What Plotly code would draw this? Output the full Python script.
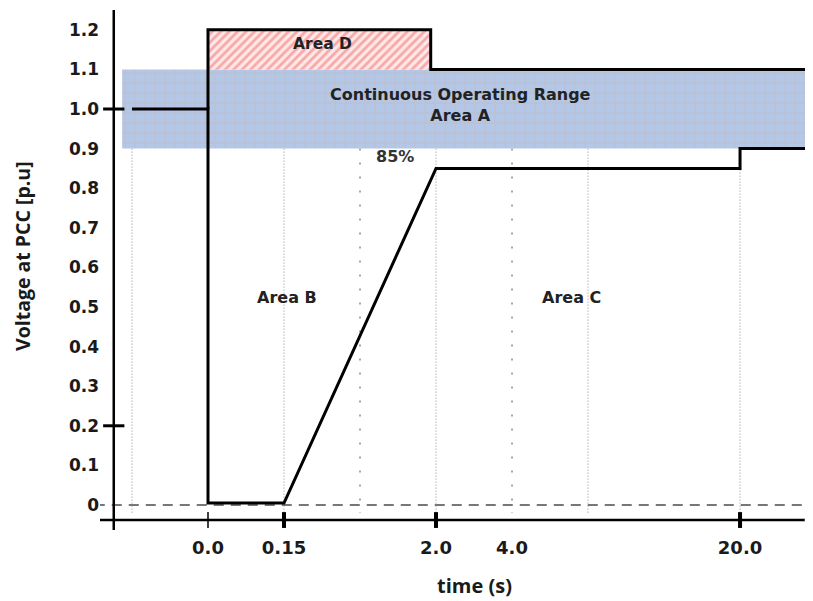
import plotly.graph_objects as go

# ---- data ----
time_labels = ["0.0", "0.15", "2.0", "4.0", "20.0"]
time_axis_pos = [0, 1, 3, 4, 7]          # mapped (non-linear) axis positions of the time ticks
volt_ticks = [0, 0.1, 0.2, 0.3, 0.4, 0.5, 0.6, 0.7, 0.8, 0.9, 1.0, 1.1, 1.2]
volt_labels = ["0", "0.1", "0.2", "0.3", "0.4", "0.5", "0.6", "0.7", "0.8", "0.9", "1.0", "1.1", "1.2"]

# lower (under-voltage) boundary
low_x = [-1, 0, 0, 1, 3, 7, 7, 7.96]
low_y = [1.0, 1.0, 0.005, 0.005, 0.85, 0.85, 0.9, 0.9]
# upper (over-voltage) boundary
up_x = [0, 0, 2.93, 2.93, 7.96]
up_y = [1.0, 1.2, 1.2, 1.1, 1.1]
# areas
areaA_x = [-1.13, 7.96, 7.96, -1.13, -1.13]
areaA_y = [0.9, 0.9, 1.1, 1.1, 0.9]
areaD_x = [0, 2.93, 2.93, 0, 0]
areaD_y = [1.1, 1.1, 1.2, 1.2, 1.1]
fine_grid_x = [-1, 1, 3, 5, 7]
sparse_grid_x = [2, 4]

X0, X1 = -1.421, 7.96
Y0, Y1 = -0.0758, 1.2551
AX_X = -1.24      # y-axis line position
AX_Y = -0.038     # x-axis line position

fig = go.Figure()

# vertical guides
for gx in fine_grid_x:
    fig.add_trace(go.Scatter(x=[gx, gx], y=[0.9, -0.02], mode="lines",
                             line=dict(color="#8a8a8a", width=1, dash="1px,2px"),
                             hoverinfo="skip", showlegend=False))
for gx in sparse_grid_x:
    fig.add_trace(go.Scatter(x=[gx, gx], y=[0.9, -0.02], mode="lines",
                             line=dict(color="#8a8a8a", width=1.5, dash="2px,12px"),
                             hoverinfo="skip", showlegend=False))

# Area A band
fig.add_trace(go.Scatter(x=areaA_x, y=areaA_y, mode="lines", fill="toself",
                         line=dict(width=0), fillcolor="#b4c7e7",
                         fillpattern=dict(shape="+", bgcolor="#b4c7e7", fgcolor="#c4b8b4",
                                          size=10, solidity=0.2),
                         hoverinfo="skip", showlegend=False))
# Area D hatched
fig.add_trace(go.Scatter(x=areaD_x, y=areaD_y, mode="lines", fill="toself",
                         line=dict(width=0), fillcolor="#ffd6d6",
                         fillpattern=dict(shape="/", bgcolor="#ffe8e8", fgcolor="#f26464",
                                          size=6, solidity=0.45),
                         hoverinfo="skip", showlegend=False))

# dashed zero line
fig.add_trace(go.Scatter(x=[-1.49, X1], y=[0, 0], mode="lines",
                         line=dict(color="#777777", width=2, dash="10px,7px"),
                         hoverinfo="skip", showlegend=False))

# boundary curves
fig.add_trace(go.Scatter(x=low_x, y=low_y, mode="lines",
                         line=dict(color="black", width=3), showlegend=False))
fig.add_trace(go.Scatter(x=up_x, y=up_y, mode="lines",
                         line=dict(color="black", width=3), showlegend=False))

# axes lines
fig.add_trace(go.Scatter(x=[-1.51, 7.9], y=[AX_Y, AX_Y], mode="lines+markers",
                         line=dict(color="black", width=2.5),
                         marker=dict(size=[0, 7], color="black"),
                         hoverinfo="skip", showlegend=False))
fig.add_trace(go.Scatter(x=[AX_X, AX_X], y=[1.25, -0.063], mode="lines",
                         line=dict(color="black", width=2.5),
                         hoverinfo="skip", showlegend=False))
# y tick marks at 1.0 and 0.2
for v in [1.0, 0.2]:
    fig.add_trace(go.Scatter(x=[-1.38, -1.1], y=[v, v], mode="lines",
                             line=dict(color="black", width=3),
                             hoverinfo="skip", showlegend=False))
# x tick marks
for i, p in enumerate(time_axis_pos):
    if time_labels[i] == "4.0":
        continue
    fig.add_trace(go.Scatter(x=[p, p], y=[-0.018, -0.058], mode="lines",
                             line=dict(color="black", width=1.5 if p == 0 else 4),
                             hoverinfo="skip", showlegend=False))

bold = dict(family="DejaVu Sans", size=16, color="#222222", weight="bold")
ann = [
    dict(x=1.5, y=1.163, text="Area D", font=dict(family="DejaVu Sans", size=15.5, color="#222", weight="bold")),
    dict(x=3.32, y=1.01, text="Continuous Operating Range<br>Area A", font=bold),
    dict(x=2.46, y=0.879, text="85%", font=dict(family="DejaVu Sans", size=16, color="#333", weight="bold")),
    dict(x=1.04, y=0.523, text="Area B", font=bold),
    dict(x=4.78, y=0.523, text="Area C", font=bold),
]
for a in ann:
    a.update(xref="x", yref="y", showarrow=False)

PH = 527.0
ann.append(dict(xref="paper", yref="paper", x=(475 - 100) / 713, y=(PH - 577) / PH,
                text="time (s)", showarrow=False, xanchor="center", yanchor="middle",
                font=dict(family="Open Sans", size=20, color="#1a1a1a", weight="bold")))
ann.append(dict(xref="paper", yref="paper", x=(22 - 100) / 713, y=(PH - 248) / PH,
                text="Voltage at PCC [p.u]", textangle=-90, showarrow=False,
                xanchor="center", yanchor="middle",
                font=dict(family="Open Sans", size=19.5, color="#1a1a1a", weight="bold")))

tickf = dict(family="DejaVu Sans", size=17, color="#1a1a1a", weight="bold")
fig.update_layout(
    width=805, height=593,
    margin=dict(l=92, r=0, t=0, b=66),
    paper_bgcolor="white", plot_bgcolor="white",
    annotations=ann,
    xaxis=dict(range=[X0, X1], tickvals=time_axis_pos, ticktext=time_labels,
               showgrid=False, zeroline=False, showline=False, ticks="",
               tickfont=dict(tickf, size=18), fixedrange=True),
    yaxis=dict(range=[Y0, Y1], tickvals=volt_ticks, ticktext=volt_labels,
               showgrid=False, zeroline=False, showline=False, ticks="",
               tickfont=tickf, fixedrange=True),
)

fig.write_html("out.html")
